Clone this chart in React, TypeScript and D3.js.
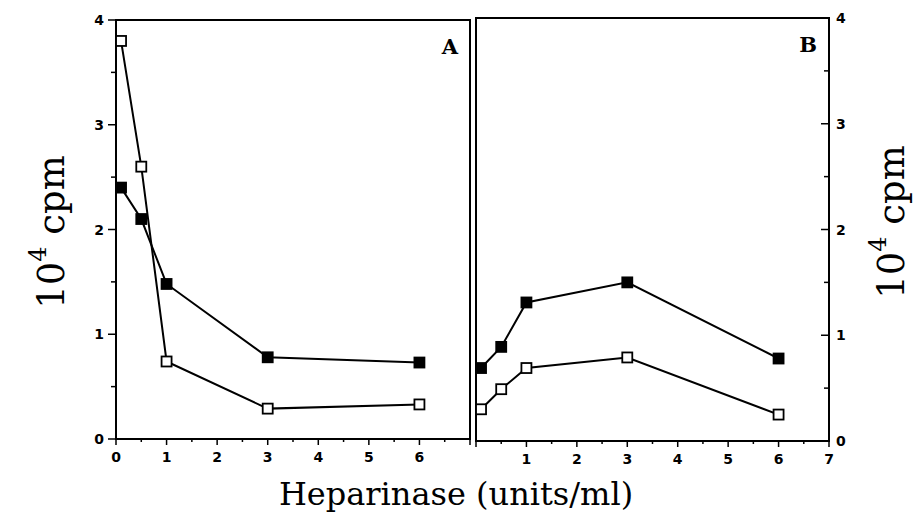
import React, { useRef, useEffect } from 'react';
import * as d3 from 'd3';

// Heparinase dose (units/ml)
const dosesA = [0.1, 0.5, 1, 3, 6];
const dosesB = [0.1, 0.5, 1, 3, 6];

// 10^4 cpm
const filledA = [2.4, 2.1, 1.48, 0.78, 0.73];
const openA = [3.8, 2.6, 0.74, 0.29, 0.33];
const filledB = [0.69, 0.89, 1.31, 1.5, 0.78];
const openB = [0.3, 0.49, 0.69, 0.79, 0.25];

const yTicks = [0, 1, 2, 3, 4];
const xTicksA = [0, 1, 2, 3, 4, 5, 6];
const xTicksB = [1, 2, 3, 4, 5, 6, 7];

const App = () => {
  const svgRef = useRef(null);

  useEffect(() => {
    document.body.style.margin = '0';
    const svg = d3.select(svgRef.current);
    svg.selectAll('*').remove();

    const tickFont = 'DejaVu Sans, Liberation Sans, sans-serif';
    const serif = 'DejaVu Serif, Liberation Serif, serif';

    const panel = (x0, x1, yTop, yBottom, xs, filled, open, xTicks, side, label) => {
      const x = d3.scaleLinear().domain([0, 7]).range([x0, x1]);
      const y = d3.scaleLinear().domain([0, 4]).range([yBottom, yTop]);
      const g = svg.append('g');

      // frame
      g.append('rect')
        .attr('x', x0).attr('y', yTop)
        .attr('width', x1 - x0).attr('height', yBottom - yTop)
        .attr('fill', 'none').attr('stroke', '#000').attr('stroke-width', 2);

      // y axis ticks (both panels draw them to the left of the axis line)
      const yAxisX = side === 'left' ? x0 : x1;
      d3.range(0, 4.01, 0.5).forEach(v => {
        const len = Number.isInteger(v) ? 8 : 5;
        g.append('line')
          .attr('x1', yAxisX).attr('x2', yAxisX - len)
          .attr('y1', y(v)).attr('y2', y(v))
          .attr('stroke', '#000').attr('stroke-width', 1.5);
      });
      g.selectAll('.yl').data(yTicks).enter().append('text')
        .attr('x', side === 'left' ? x0 - 12 : x1 + 7)
        .attr('y', d => y(d) + 5)
        .attr('text-anchor', side === 'left' ? 'end' : 'start')
        .attr('font-family', tickFont).attr('font-weight', 'bold')
        .style('font-size', '14px')
        .text(d => d);

      // x axis ticks
      d3.range(0, 7.01, 0.5).forEach(v => {
        const major = Number.isInteger(v);
        g.append('line')
          .attr('x1', x(v)).attr('x2', x(v))
          .attr('y1', yBottom).attr('y2', yBottom + (major ? 6 : 3))
          .attr('stroke', '#000').attr('stroke-width', 1.5);
      });
      g.selectAll('.xl').data(xTicks).enter().append('text')
        .attr('x', d => x(d))
        .attr('y', yBottom + 23)
        .attr('text-anchor', 'middle')
        .attr('font-family', tickFont).attr('font-weight', 'bold')
        .style('font-size', '14px')
        .text(d => d);

      const line = d3.line().x(d => x(d[0])).y(d => y(d[1]));
      [[filled, '#000'], [open, '#fff']].forEach(([vals, fill]) => {
        const pts = xs.map((d, i) => [d, vals[i]]);
        g.append('path').datum(pts)
          .attr('fill', 'none').attr('stroke', '#000').attr('stroke-width', 2)
          .attr('d', line);
        g.selectAll(null).data(pts).enter().append('rect')
          .attr('x', d => x(d[0]) - 5).attr('y', d => y(d[1]) - 5)
          .attr('width', 10).attr('height', 10)
          .attr('fill', fill).attr('stroke', '#000').attr('stroke-width', 1.8);
      });

      g.append('text')
        .attr('x', x1 - 12)
        .attr('y', yTop + 34)
        .attr('text-anchor', 'end')
        .attr('font-family', serif).attr('font-weight', 'bold')
        .style('font-size', '21px')
        .text(label);
    };

    panel(116, 470, 20, 439, dosesA, filledA, openA, xTicksA, 'left', 'A');
    panel(476, 829, 18, 441, dosesB, filledB, openB, xTicksB, 'right', 'B');

    // y axis titles
    const yTitle = (cx, cy) => {
      const t = svg.append('text')
        .attr('transform', `translate(${cx},${cy}) rotate(-90)`)
        .attr('text-anchor', 'middle')
        .attr('font-family', serif).style('font-size', '37px');
      t.append('tspan').text('10');
      t.append('tspan').attr('dy', -18).style('font-size', '24px').text('4');
      t.append('tspan').attr('dy', 18).text(' cpm');
    };
    yTitle(64, 232);
    yTitle(904, 222);

    svg.append('text')
      .attr('x', 456).attr('y', 505)
      .attr('text-anchor', 'middle')
      .attr('font-family', serif).style('font-size', '32px')
      .text('Heparinase (units/ml)');
  }, []);

  return <svg ref={svgRef} width={916} height={512} style={{ display: 'block', background: '#fff' }}></svg>;
};

export default App;
